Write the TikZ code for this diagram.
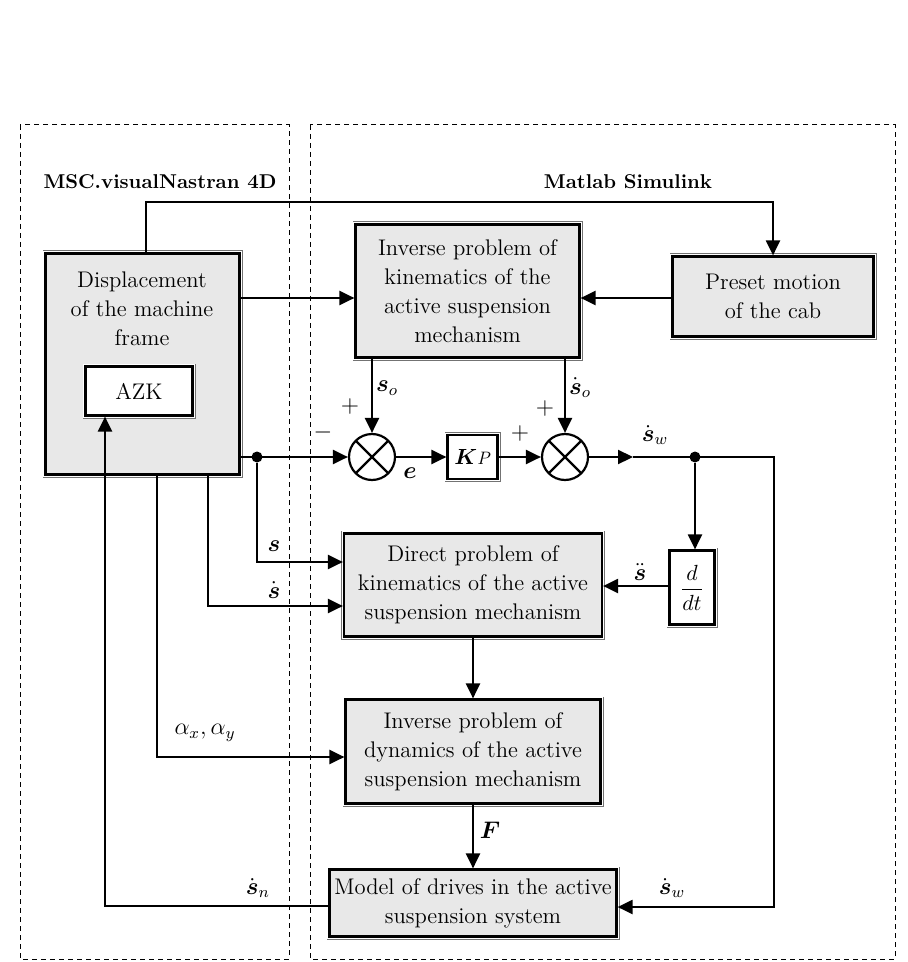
\documentclass[tikz,border=0pt]{standalone}
\usepackage{amsmath, amssymb}
\usepackage{xcolor}
\usepackage{tikz}
\usetikzlibrary{positioning, arrows.meta}

\begin{document}
\begin{tikzpicture}[
  x=0.5pt, y=-0.5pt,
  font=\fontsize{11.3}{14.5}\selectfont,
  blk/.style={draw, line width=1.1pt, fill=black!9, align=center, inner sep=0pt,
              preaction={draw=black!55, line width=3pt},
              preaction={draw=white, line width=2.1pt}},
  sumj/.style={circle, draw, line width=1.1pt, fill=white, minimum size=23pt,
               inner sep=0pt,
               path picture={\draw[line width=1.1pt,
                 shift={(path picture bounding box.center)}]
                 (45:12pt) -- (225:12pt) (135:12pt) -- (315:12pt);}},
  frame/.style={draw, line width=0.5pt, dash pattern=on 2.5pt off 2pt},
  ttl/.style={font=\bfseries\fontsize{10}{12}\selectfont},
  dot/.style={circle, fill, inner sep=0pt, minimum size=5.5pt},
  lbl/.style={inner sep=0pt, font=\fontsize{11.5}{14}\selectfont},
  arr/.style={-{Triangle[length=7.5pt, width=7pt]}, line width=1.1pt}
]
\useasboundingbox (0,0) rectangle (908,962);

% the two simulation environments
\draw[frame] (20,125) rectangle (289,959);
\draw[frame] (310,125) rectangle (895,959);
\node[ttl] (msc) at (160,182) {MSC.visualNastran 4D};
\node[ttl] (mtl) at (628,182) {Matlab Simulink};

% blocks
\node[blk, minimum width=97pt, minimum height=110.5pt] (disp) at (142.5,364) {};
\node[align=center] (disptxt) at (142,309) {Displacement\\of the machine\\frame};
\node[blk, fill=white, minimum width=53.5pt, minimum height=24.5pt] (azk) at (139,391) {AZK};
\node[blk, minimum width=112pt, minimum height=66.5pt] (ik) at (467.5,291)
  {Inverse problem of\\kinematics of the\\active suspension\\mechanism};
\node[blk, minimum width=100.5pt, minimum height=40pt] (preset) at (773,296.5)
  {Preset motion\\of the cab};
\node[sumj] (j1) at (372,457) {};
\node[blk, fill=white, minimum width=25pt, minimum height=22pt] (kp) at (472.5,457)
  {$\boldsymbol{K}$\textit{\small P}};
\node[sumj] (j2) at (565,457) {};
\node[blk, fill=white, minimum width=22.5pt, minimum height=37pt] (ddt) at (692,587.5)
  {$\dfrac{d}{dt}$};
\node[blk, minimum width=129pt, minimum height=51.5pt] (dk) at (473,585)
  {Direct problem of\\kinematics of the active\\suspension mechanism};
\node[blk, minimum width=127.5pt, minimum height=52pt] (idyn) at (473,751.5)
  {Inverse problem of\\dynamics of the active\\suspension mechanism};
\node[blk, minimum width=143.5pt, minimum height=33.5pt] (model) at (473,903)
  {Model of drives in the active\\suspension system};

% branch points
\node[dot] (spl) at (257,457) {};
\node[dot] (tap) at (695,457) {};
\coordinate (swmid) at (633,457);
\coordinate (corner) at (774,457);

% connectors
\draw[arr] (disp.north -| 146,0) -- (146,202) -| (preset.north);
\draw[arr] (disp.east |- 0,298) -- (ik.west |- 0,298);
\draw[arr] (preset.west |- 0,298) -- (ik.east |- 0,298);
\draw[arr] (ik.south -| j1) -- (j1);
\draw[arr] (ik.south -| j2) -- (j2);
\draw[arr] (disp.east |- j1) -- (j1);
\draw[arr] (j1) -- (kp);
\draw[arr] (kp) -- (j2);
\draw[arr] (j2) -- (swmid);
\draw[arr] (swmid) -- (corner) |- (model.east |- 0,907);
\draw[arr] (tap) -- (tap |- ddt.north);
\draw[arr] (ddt.west |- 0,586) -- (dk.east |- 0,586);
\draw[arr] (spl) |- (dk.west |- 0,562);
\draw[arr] (disp.south -| 208,0) |- (dk.west |- 0,606);
\draw[arr] (disp.south -| 157,0) |- (idyn.west |- 0,757);
\draw[arr] (dk.south) -- (idyn.north);
\draw[arr] (idyn.south) -- (model.north);
\draw[arr] (model.west |- 0,906) -| (azk.south -| 105,0);

% signal labels
\node[lbl] (lso) at (387,388) {$\boldsymbol{s}_o$};
\node[lbl] (lsod) at (580,388) {$\dot{\boldsymbol{s}}_o$};
\node[lbl] (p1) at (350,406) {$+$};
\node[lbl] (p2) at (545,408) {$+$};
\node[lbl] (p3) at (520,433) {$+$};
\node[lbl] (m1) at (323,432) {$-$};
\node[lbl] (le) at (410,473) {$\boldsymbol{e}$};
\node[lbl] (lsw) at (655,435) {$\dot{\boldsymbol{s}}_w$};
\node[lbl] (lsdd) at (640,572) {$\ddot{\boldsymbol{s}}$};
\node[lbl] (ls) at (274,546) {$\boldsymbol{s}$};
\node[lbl] (lsd) at (274,590) {$\dot{\boldsymbol{s}}$};
\node[lbl] (lal) at (205,733) {$\alpha_x,\alpha_y$};
\node[lbl] (lF) at (490,830) {$\boldsymbol{F}$};
\node[lbl] (lsw2) at (672,888) {$\dot{\boldsymbol{s}}_w$};
\node[lbl] (lsn) at (258,888) {$\dot{\boldsymbol{s}}_n$};
\end{tikzpicture}
\end{document}
